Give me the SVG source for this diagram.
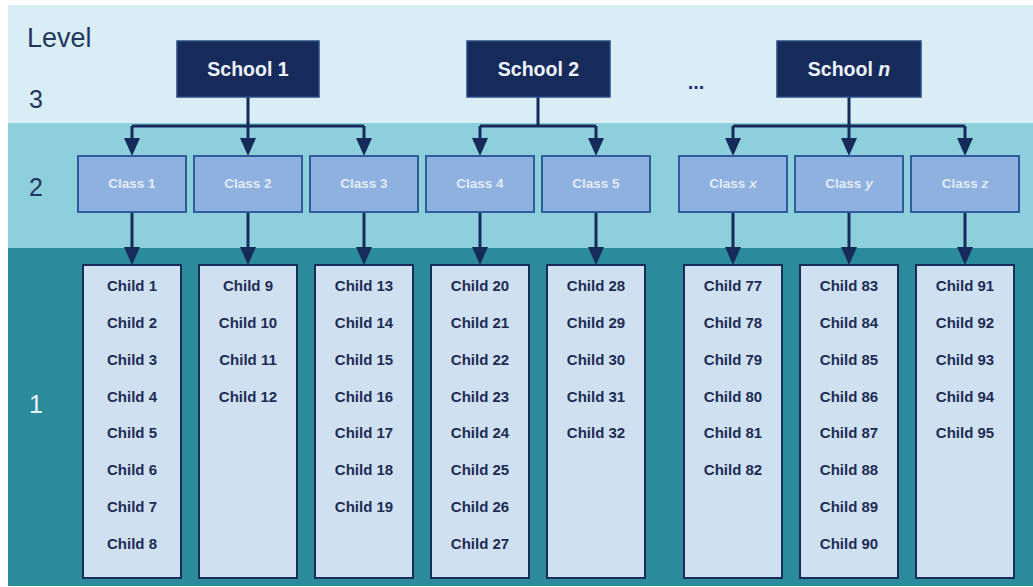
<svg xmlns="http://www.w3.org/2000/svg" width="1033" height="587" viewBox="0 0 1033 587">
<style>
.lvl{font-family:"Liberation Sans",Arial,sans-serif;font-size:25px;fill:#24365e}
.school rect{fill:#172b5a;stroke:#2b4a84;stroke-width:1.5}
.school text{font-family:"Liberation Sans",Arial,sans-serif;font-size:19.5px;font-weight:bold;fill:#eef3fa;text-anchor:middle}
.cls rect{fill:#8eb1df;stroke:#2e5c9c;stroke-width:2}
.cls text{font-family:"Liberation Sans",Arial,sans-serif;font-size:13.5px;font-weight:bold;fill:#e3ebf8;text-anchor:middle}
.kids rect{fill:#cfe1f1;stroke:#1a2d5a;stroke-width:2}
.kids text{font-family:"Liberation Sans",Arial,sans-serif;font-size:15px;font-weight:bold;fill:#1e2c55;text-anchor:middle}
.conn path{fill:none;stroke:#172b5a;stroke-width:3;marker-end:url(#ah)}
.conn path.nm{marker-end:none}
</style>
<defs>
<marker id="ah" viewBox="0 0 18 16" refX="14" refY="8" markerWidth="18" markerHeight="16" markerUnits="userSpaceOnUse" orient="auto">
<path d="M0,0 L18,8 L0,16 z" fill="#172b5a"/>
</marker>
</defs>
<rect x="0" y="0" width="1033" height="587" fill="#ffffff"/>
<rect x="8" y="5" width="1025" height="118" fill="#d9eef4"/>
<rect x="8" y="123" width="1025" height="125" fill="#8dcfdb"/>
<rect x="8" y="248" width="1025" height="338" fill="#2b8a9b"/>
<g id="levels">
<text class="lvl" x="27" y="47" style="font-size:27px">Level</text>
<text class="lvl" x="29" y="108">3</text>
<text class="lvl" x="29" y="196">2</text>
<text class="lvl" x="29" y="413" style="fill:#e9f5f7">1</text>
</g>
<text x="696" y="89" font-family="Liberation Sans, Arial, sans-serif" font-size="20" font-weight="bold" fill="#23357a" text-anchor="middle">...</text>
<g class="conn" id="connectors">
<path class="nm" d="M248,97 V126 M132,126 H364"/>
<path d="M132,126 V152"/><path d="M248,126 V152"/><path d="M364,126 V152"/>
<path class="nm" d="M538,97 V126 M480,126 H596"/>
<path d="M480,126 V152"/><path d="M596,126 V152"/>
<path class="nm" d="M849,97 V126 M733,126 H965"/>
<path d="M733,126 V152"/><path d="M849,126 V152"/><path d="M965,126 V152"/>
<path d="M132,212 V261"/><path d="M248,212 V261"/><path d="M364,212 V261"/><path d="M480,212 V261"/><path d="M596,212 V261"/><path d="M733,212 V261"/><path d="M849,212 V261"/><path d="M965,212 V261"/>
</g>
<g class="school" id="school1"><rect x="177" y="41" width="142" height="56"/><text x="248" y="76">School 1</text></g>
<g class="school" id="school2"><rect x="467" y="41" width="143" height="56"/><text x="538.5" y="76">School 2</text></g>
<g class="school" id="schooln"><rect x="777" y="41" width="144" height="56"/><text x="849" y="76">School <tspan font-style="italic">n</tspan></text></g>
<g class="cls" id="class1"><rect x="78" y="156" width="108" height="56"/><text x="132" y="188">Class 1</text></g>
<g class="cls" id="class2"><rect x="194" y="156" width="108" height="56"/><text x="248" y="188">Class 2</text></g>
<g class="cls" id="class3"><rect x="310" y="156" width="108" height="56"/><text x="364" y="188">Class 3</text></g>
<g class="cls" id="class4"><rect x="426" y="156" width="108" height="56"/><text x="480" y="188">Class 4</text></g>
<g class="cls" id="class5"><rect x="542" y="156" width="108" height="56"/><text x="596" y="188">Class 5</text></g>
<g class="cls" id="classx"><rect x="679" y="156" width="108" height="56"/><text x="733" y="188">Class <tspan font-style="italic">x</tspan></text></g>
<g class="cls" id="classy"><rect x="795" y="156" width="108" height="56"/><text x="849" y="188">Class <tspan font-style="italic">y</tspan></text></g>
<g class="cls" id="classz"><rect x="911" y="156" width="108" height="56"/><text x="965" y="188">Class <tspan font-style="italic">z</tspan></text></g>
<g class="kids" id="kids1"><rect x="83" y="265" width="98" height="313"/>
<text x="132" y="291">Child 1</text><text x="132" y="328">Child 2</text><text x="132" y="365">Child 3</text><text x="132" y="402">Child 4</text><text x="132" y="438">Child 5</text><text x="132" y="475">Child 6</text><text x="132" y="512">Child 7</text><text x="132" y="549">Child 8</text></g>
<g class="kids" id="kids2"><rect x="199" y="265" width="98" height="313"/>
<text x="248" y="291">Child 9</text><text x="248" y="328">Child 10</text><text x="248" y="365">Child 11</text><text x="248" y="402">Child 12</text></g>
<g class="kids" id="kids3"><rect x="315" y="265" width="98" height="313"/>
<text x="364" y="291">Child 13</text><text x="364" y="328">Child 14</text><text x="364" y="365">Child 15</text><text x="364" y="402">Child 16</text><text x="364" y="438">Child 17</text><text x="364" y="475">Child 18</text><text x="364" y="512">Child 19</text></g>
<g class="kids" id="kids4"><rect x="431" y="265" width="98" height="313"/>
<text x="480" y="291">Child 20</text><text x="480" y="328">Child 21</text><text x="480" y="365">Child 22</text><text x="480" y="402">Child 23</text><text x="480" y="438">Child 24</text><text x="480" y="475">Child 25</text><text x="480" y="512">Child 26</text><text x="480" y="549">Child 27</text></g>
<g class="kids" id="kids5"><rect x="547" y="265" width="98" height="313"/>
<text x="596" y="291">Child 28</text><text x="596" y="328">Child 29</text><text x="596" y="365">Child 30</text><text x="596" y="402">Child 31</text><text x="596" y="438">Child 32</text></g>
<g class="kids" id="kidsx"><rect x="684" y="265" width="98" height="313"/>
<text x="733" y="291">Child 77</text><text x="733" y="328">Child 78</text><text x="733" y="365">Child 79</text><text x="733" y="402">Child 80</text><text x="733" y="438">Child 81</text><text x="733" y="475">Child 82</text></g>
<g class="kids" id="kidsy"><rect x="800" y="265" width="98" height="313"/>
<text x="849" y="291">Child 83</text><text x="849" y="328">Child 84</text><text x="849" y="365">Child 85</text><text x="849" y="402">Child 86</text><text x="849" y="438">Child 87</text><text x="849" y="475">Child 88</text><text x="849" y="512">Child 89</text><text x="849" y="549">Child 90</text></g>
<g class="kids" id="kidsz"><rect x="916" y="265" width="98" height="313"/>
<text x="965" y="291">Child 91</text><text x="965" y="328">Child 92</text><text x="965" y="365">Child 93</text><text x="965" y="402">Child 94</text><text x="965" y="438">Child 95</text></g>
</svg>
